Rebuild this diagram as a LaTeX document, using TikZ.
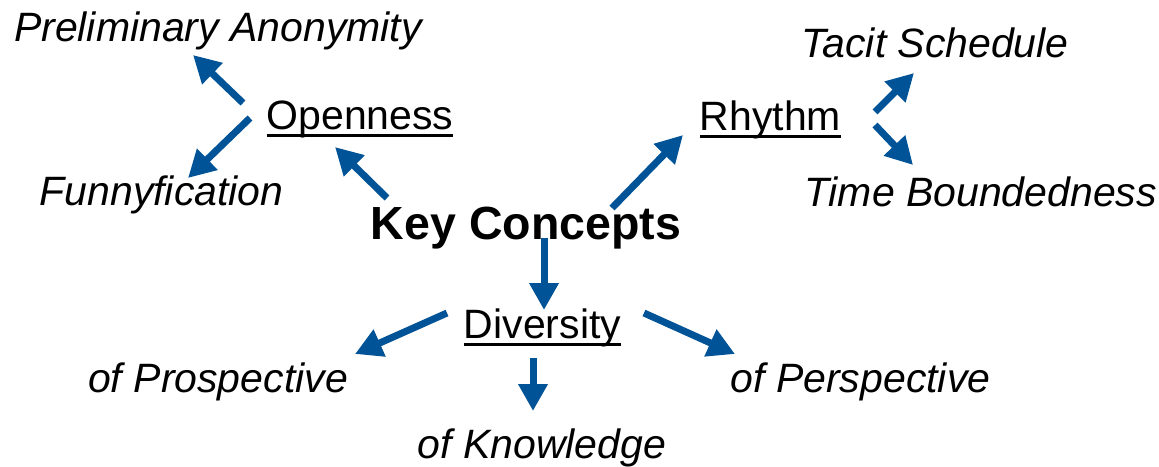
\documentclass[tikz,border=0pt]{standalone}
\usepackage{fontspec}
\setmainfont{Liberation Sans}
\usetikzlibrary{arrows.meta}
\definecolor{flecheblue}{RGB}{0,83,150}
\newcommand{\souligne}[1]{\setbox0\hbox{#1}\rlap{\rule[-7.8pt]{\wd0}{2.4pt}}\box0}

\begin{document}
\begin{tikzpicture}[x=1pt, y=-1pt,
    concept/.style={anchor=base, inner sep=0pt, font=\fontsize{41}{49}\selectfont},
    sub/.style={concept, font=\fontsize{41}{49}\selectfont\itshape},
    keyword/.style={concept, font=\fontsize{46.5}{56}\selectfont\bfseries},
    fleche/.style={draw=flecheblue, line width=7pt, -{Triangle[length=27pt,width=28pt]}}]
    \useasboundingbox (0,0) rectangle (1159,466);

    % Centre
    \node[keyword] (key) at (526,239) {Key Concepts};

    % Openness
    \node[concept] (open) at (360,129) {\souligne{Openness}};
    \node[sub] (prelim) at (218,41) {Preliminary Anonymity};
    \node[sub] (funny) at (161.5,205) {Funnyfication};
    \draw[fleche] ([shift={(-139,-41)}]key.base) -- ([shift={(-25,18)}]open.base);
    \draw[fleche] ([shift={(-117,-26)}]open.base) -- ([shift={(-25,14)}]prelim.base);
    \draw[fleche] ([shift={(-110,-11)}]open.base) -- ([shift={(26.5,-27)}]funny.base);

    % Rhythm
    \node[concept] (rhythm) at (770.5,130) {\souligne{Rhythm}};
    \node[sub] (tacit) at (935,57) {Tacit Schedule};
    \node[sub] (time) at (980.5,206) {Time Boundedness};
    \draw[fleche] ([shift={(86,-31)}]key.base) -- ([shift={(-87.5,5)}]rhythm.base);
    \draw[fleche] ([shift={(104.5,-18)}]rhythm.base) -- ([shift={(-21,16)}]tacit.base);
    \draw[fleche] ([shift={(104.5,-5)}]rhythm.base) -- ([shift={(-67.5,-41)}]time.base);

    % Diversity
    \node[concept] (div) at (542.5,338) {\souligne{Diversity}};
    \node[sub] (prosp) at (218,392) {of Prospective};
    \node[sub] (know) at (542,458) {of Knowledge};
    \node[sub] (persp) at (860.5,392) {of Perspective};
    \draw[fleche] ([shift={(18,-1)}]key.base) -- ([shift={(1.5,-28)}]div.base);
    \draw[fleche] ([shift={(-95.5,-25)}]div.base) -- ([shift={(137,-38)}]prosp.base);
    \draw[fleche] ([shift={(-9.5,20)}]div.base) -- ([shift={(-9,-47)}]know.base);
    \draw[fleche] ([shift={(101.5,-25)}]div.base) -- ([shift={(-125.5,-38)}]persp.base);
\end{tikzpicture}
\end{document}
